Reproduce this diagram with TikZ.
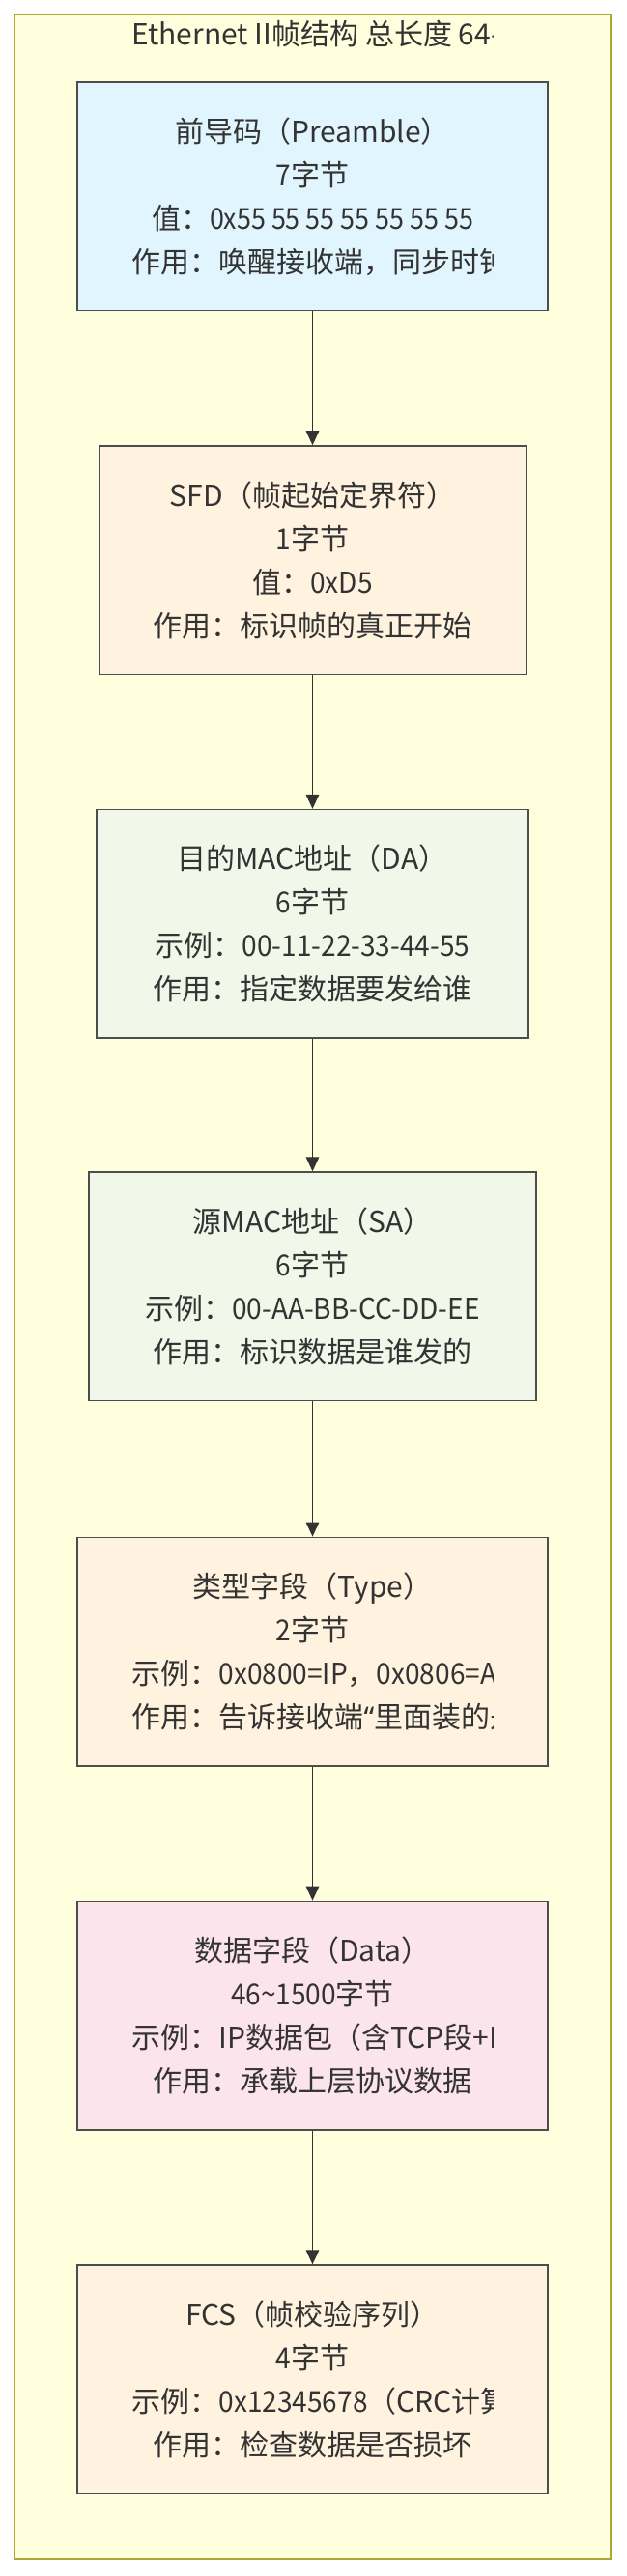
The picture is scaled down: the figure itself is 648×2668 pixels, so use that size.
\documentclass[tikz,border=0pt]{standalone}
\usepackage{fontspec}
\usepackage{graphicx}
\setmainfont{Noto Sans CJK SC}
\newfontfamily\qfont{Noto Sans}
\usetikzlibrary{arrows.meta}
\definecolor{clusterfill}{HTML}{FFFFDE}
\definecolor{clusterdraw}{HTML}{AAAA33}
\definecolor{txt}{HTML}{333333}
\definecolor{boxdraw}{HTML}{4D4D4D}
\definecolor{fblue}{HTML}{E1F5FE}
\definecolor{forange}{HTML}{FFF3E0}
\definecolor{fgreen}{HTML}{F1F8E9}
\definecolor{fpink}{HTML}{FCE4EC}
\newlength{\lblw}\setlength{\lblw}{374pt}
\newsavebox{\fitbox}
\newcommand{\fitline}[1]{\sbox{\fitbox}{#1}\ifdim\wd\fitbox>\lblw\makebox[\lblw][l]{#1}\else\makebox[\lblw][c]{#1}\fi}
\newcommand{\dg}[1]{\scalebox{0.935}[1]{#1}}
\newcommand{\dgn}[1]{\scalebox{0.895}[1]{#1}}
\newcommand{\myopenq}{{\qfont “}}
\newcommand{\cliplabel}[3]{%
\begin{scope}
\clip ([xshift=-187pt]#1.north) rectangle ([xshift=187pt]#1.south);
\node[lbl] (#2) at (#1.center) {#3};
\end{scope}}
\begin{document}
\begin{tikzpicture}[x=1pt,y=1pt,
  cluster/.style={draw=clusterdraw, fill=clusterfill, line width=2.5pt, inner sep=0pt},
  fieldbox/.style={draw=boxdraw, line width=1.5pt, inner sep=0pt, minimum height=236.5pt},
  lbl/.style={align=center, inner sep=0pt, text=txt, font=\fontsize{30pt}{45pt}\selectfont},
  arr/.style={draw=txt, line width=1.3pt, -{Triangle[length=15pt,width=13.5pt]}}]
\useasboundingbox (0,0) rectangle (648,-2668);
\node[cluster, minimum width=617pt, minimum height=2635pt] (frame) at (323.5,-1332.5) {};
\begin{scope}
\clip (136.5,-15) rectangle (510.5,-80);
\node[lbl, anchor=base] (title) at (323.5,-47) {\fitline{Ethernet II帧结构 总长度 64-1518字节}};
\end{scope}

\node[fieldbox, fill=fblue, minimum width=487pt] (b1) at (323.5,-203.3) {};
\node[fieldbox, fill=forange, minimum width=442pt] (b2) at (323.5,-580.2) {};
\node[fieldbox, fill=fgreen, minimum width=447pt] (b3) at (323.5,-956.8) {};
\node[fieldbox, fill=fgreen, minimum width=463pt] (b4) at (323.5,-1332.3) {};
\node[fieldbox, fill=forange, minimum width=487pt] (b5) at (323.5,-1710.6) {};
\node[fieldbox, fill=fpink, minimum width=487pt] (b6) at (323.5,-2087.6) {};
\node[fieldbox, fill=forange, minimum width=487pt] (b7) at (323.5,-2464.3) {};

\cliplabel{b1}{t1}{\fitline{前导码（Preamble）}\\\fitline{\dg{7}字节}\\\fitline{值：\dgn{0x55 55 55 55 55 55 55}}\\\fitline{作用：唤醒接收端，同步时钟}}
\cliplabel{b2}{t2}{\fitline{SFD（帧起始定界符）}\\\fitline{\dg{1}字节}\\\fitline{值：\dg{0xD5}}\\\fitline{作用：标识帧的真正开始}}
\cliplabel{b3}{t3}{\fitline{目的MAC地址（DA）}\\\fitline{\dg{6}字节}\\\fitline{示例：\dg{00-11-22-33-44-55}}\\\fitline{作用：指定数据要发给谁}}
\cliplabel{b4}{t4}{\fitline{源MAC地址（SA）}\\\fitline{\dg{6}字节}\\\fitline{示例：\dg{00-AA-BB-CC-DD-EE}}\\\fitline{作用：标识数据是谁发的}}
\cliplabel{b5}{t5}{\fitline{类型字段（Type）}\\\fitline{\dg{2}字节}\\\fitline{示例：\dg{0x0800=IP}，\dg{0x0806=ARP}}\\\fitline{作用：告诉接收端\myopenq 里面装的是什么”}}
\cliplabel{b6}{t6}{\fitline{数据字段（Data）}\\\fitline{\dg{46\symbol{126}1500}字节}\\\fitline{示例：IP数据包（含TCP段+HTTP数据）}\\\fitline{作用：承载上层协议数据}}
\cliplabel{b7}{t7}{\fitline{FCS（帧校验序列）}\\\fitline{\dg{4}字节}\\\fitline{示例：\dg{0x12345678}（CRC计算值）}\\\fitline{作用：检查数据是否损坏}}

\draw[arr] (b1.south) -- (b2.north);
\draw[arr] (b2.south) -- (b3.north);
\draw[arr] (b3.south) -- (b4.north);
\draw[arr] (b4.south) -- (b5.north);
\draw[arr] (b5.south) -- (b6.north);
\draw[arr] (b6.south) -- (b7.north);
\end{tikzpicture}
\end{document}
